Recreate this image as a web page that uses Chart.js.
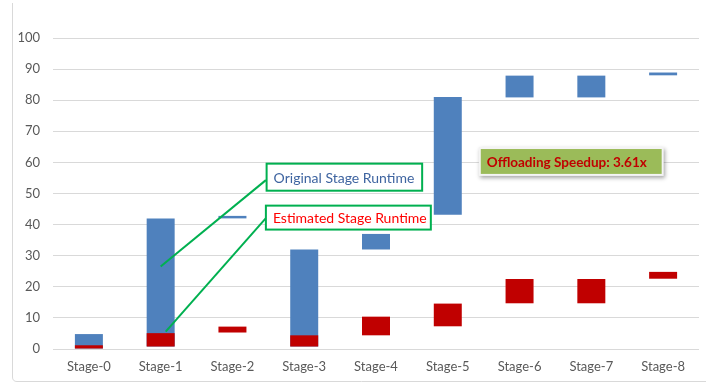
<!DOCTYPE html>
<html>
<head>
<meta charset="utf-8">
<script src="https://cdn.jsdelivr.net/npm/chart.js@4/dist/chart.umd.min.js"></script>
<style>
  html, body { margin: 0; padding: 0; background: #ffffff; }
  #wrap { width: 706px; height: 383px; }
</style>
</head>
<body>
<div id="wrap"><canvas id="c" width="706" height="383"></canvas></div>
<script>
// Stage categories
const stages = ['Stage-0', 'Stage-1', 'Stage-2', 'Stage-3', 'Stage-4', 'Stage-5', 'Stage-6', 'Stage-7', 'Stage-8'];

// Original runtime per stage: start and end on the timeline
const originalStart = [0, 0.8, 42, 0.8, 32, 43.2, 80.9, 80.9, 88];
const originalEnd   = [4.8, 42, 42.8, 32, 37, 81, 87.9, 87.9, 88.9];

// Estimated runtime per stage: start and end on the timeline
const estimatedStart = [0, 0.8, 5.3, 0.8, 4.4, 7.3, 14.7, 14.7, 22.6];
const estimatedEnd   = [1.2, 5.1, 7.2, 4.4, 10.4, 14.6, 22.5, 22.5, 24.8];

// Value axis ticks
const yTicks = [0, 10, 20, 30, 40, 50, 60, 70, 80, 90, 100];

const speedupText = 'Offloading Speedup: 3.61x';

const FONT = 'Lato, "Liberation Sans", sans-serif';
const GREEN = '#00B050';

// Callout boxes and their leader lines, placed in category-index / value units
const callouts = [
  { text: 'Original Stage Runtime', color: '#3E64A0',
    box: { x0: 2.476, x1: 4.643, yTop: 59.6, yBot: 50.9 },
    from: { x: 1.0, y: 26.5 }, to: { x: 2.466, y: 54.3 } },
  { text: 'Estimated Stage Runtime', color: '#FF0000',
    box: { x0: 2.466, x1: 4.764, yTop: 46.1, yBot: 38.4 },
    from: { x: 1.07, y: 5.6 }, to: { x: 2.466, y: 42.1 } }
];
const speedupBox = { x0: 5.46, x1: 7.98, yTop: 64.3, yBot: 56.3 };

function pair(a, b) { return a.map((v, i) => [v, b[i]]); }

const overlay = {
  id: 'overlay',
  beforeDraw(chart) {
    const ctx = chart.ctx;
    ctx.save();
    // chart frame
    ctx.strokeStyle = '#d9d9d9';
    ctx.lineWidth = 1;
    ctx.beginPath();
    ctx.moveTo(12.5, 3);
    ctx.lineTo(12.5, 377);
    ctx.quadraticCurveTo(12.5, 381.5, 17, 381.5);
    ctx.lineTo(706, 381.5);
    ctx.stroke();
    ctx.restore();
  },
  afterDraw(chart) {
    const ctx = chart.ctx;
    const area = chart.chartArea;
    const step = area.width / stages.length;
    const xAt = i => area.left + (i + 0.5) * step;
    const yAt = v => chart.scales.y.getPixelForValue(v);
    ctx.save();

    // leader lines
    ctx.strokeStyle = GREEN;
    ctx.lineWidth = 2;
    callouts.forEach(c => {
      ctx.beginPath();
      ctx.moveTo(xAt(c.from.x), yAt(c.from.y));
      ctx.lineTo(xAt(c.to.x), yAt(c.to.y));
      ctx.stroke();
    });

    // callout boxes
    ctx.font = '14px ' + FONT;
    ctx.textBaseline = 'middle';
    ctx.textAlign = 'left';
    callouts.forEach(c => {
      const x0 = xAt(c.box.x0), x1 = xAt(c.box.x1);
      const y0 = yAt(c.box.yTop), y1 = yAt(c.box.yBot);
      ctx.fillStyle = '#ffffff';
      ctx.fillRect(x0, y0, x1 - x0, y1 - y0);
      ctx.strokeStyle = GREEN;
      ctx.lineWidth = 2;
      ctx.strokeRect(x0, y0, x1 - x0, y1 - y0);
      ctx.fillStyle = c.color;
      ctx.fillText(c.text, x0 + 7, (y0 + y1) / 2 + 1);
    });

    // speedup box
    const sx0 = xAt(speedupBox.x0), sx1 = xAt(speedupBox.x1);
    const sy0 = yAt(speedupBox.yTop), sy1 = yAt(speedupBox.yBot);
    ctx.save();
    ctx.shadowColor = 'rgba(0,0,0,0.35)';
    ctx.shadowBlur = 4;
    ctx.shadowOffsetX = 1;
    ctx.shadowOffsetY = 2;
    ctx.fillStyle = '#f4f4f4';
    ctx.fillRect(sx0 - 2, sy0 - 2, sx1 - sx0 + 4, sy1 - sy0 + 4);
    ctx.restore();
    ctx.fillStyle = '#9BBB59';
    ctx.fillRect(sx0, sy0, sx1 - sx0, sy1 - sy0);
    ctx.fillStyle = '#C00000';
    ctx.font = 'bold 13.5px ' + FONT;
    ctx.fillText(speedupText, sx0 + 6, (sy0 + sy1) / 2 + 1);

    ctx.restore();
  }
};

new Chart(document.getElementById('c'), {
  type: 'bar',
  data: {
    labels: stages,
    datasets: [
      {
        label: 'Estimated Stage Runtime',
        data: pair(estimatedStart, estimatedEnd),
        backgroundColor: '#C00000',
        borderSkipped: false,
        grouped: false,
        order: 0,
        barPercentage: 0.39,
        categoryPercentage: 1
      },
      {
        label: 'Original Stage Runtime',
        data: pair(originalStart, originalEnd),
        backgroundColor: '#4F81BD',
        borderSkipped: false,
        grouped: false,
        order: 1,
        barPercentage: 0.39,
        categoryPercentage: 1
      }
    ]
  },
  options: {
    responsive: false,
    animation: false,
    layout: { padding: { top: 38, right: 7, bottom: 0, left: 0 } },
    plugins: { legend: { display: false }, tooltip: { enabled: false } },
    scales: {
      x: {
        grid: { display: false, drawTicks: false },
        border: { display: false },
        ticks: { color: '#595959', font: { family: FONT, size: 13 }, padding: 10 },
        afterFit(s) { s.height = 34; }
      },
      y: {
        min: 0,
        max: 100,
        afterBuildTicks(s) { s.ticks = yTicks.map(v => ({ value: v })); },
        grid: { color: '#d9d9d9', lineWidth: 1, drawTicks: false },
        border: { display: false },
        ticks: { color: '#595959', font: { family: FONT, size: 13 }, padding: 13 },
        afterFit(s) { s.width = 53; }
      }
    }
  },
  plugins: [overlay]
});
</script>
</body>
</html>
